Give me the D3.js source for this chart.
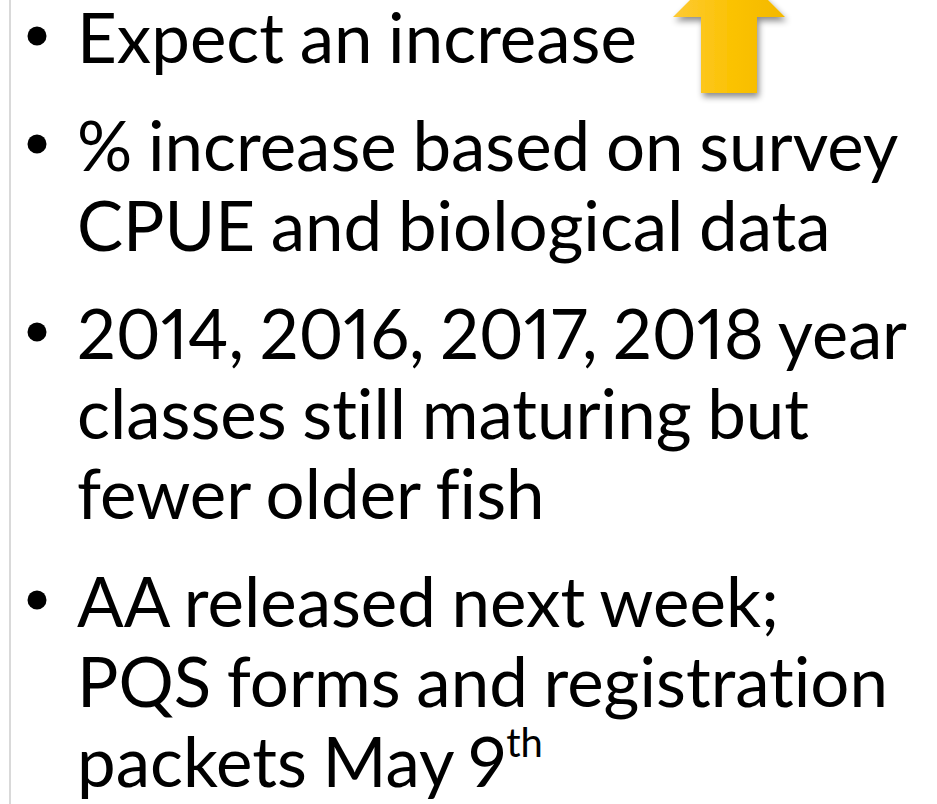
<!DOCTYPE html>
<html>
<head>
<meta charset="utf-8">
<script src="https://cdn.jsdelivr.net/npm/d3@7"></script>
<style>
    body { margin: 0; background: #fff; }
    svg { display: block; }
    .line { font-family: "Lato", "Open Sans", sans-serif; font-size: 69px; fill: #000;
            font-variant-ligatures: none; font-variant-numeric: proportional-nums;
            font-feature-settings: "liga" 0, "pnum" 1; word-spacing: -2px; }
</style>
</head>
<body>
<svg id="slide" width="937" height="804"></svg>
<script>
// bullet text, one array per bullet
const bullet1 = ["Expect an increase"];
const bullet2 = ["% increase based on survey", "CPUE and biological data"];
const bullet3 = ["2014, 2016, 2017, 2018 year", "classes still maturing but", "fewer older fish"];
const bullet4 = ["AA released next week;", "PQS forms and registration", "packets May 9"];
const bullets = [bullet1, bullet2, bullet3, bullet4];
const superscripts = [null, null, null, "th"];

let svg = d3.select("#slide");
let width = 937, height = 804;

// left gray rule
svg.append("line")
    .attr("x1", 10).attr("x2", 10).attr("y1", 0).attr("y2", height)
    .attr("stroke", "#d9d9d9").attr("stroke-width", 2);

let textX = 77, bulletX = 37;
let lineH = 80, bulletGap = 108;
let maxW = 830;

// baselines for every line
let baselines = [];
let y = 63;
bullets.forEach(function (b, i) {
    let ys = [];
    b.forEach(function (l, j) {
        ys.push(y);
        y += (j < b.length - 1) ? lineH : bulletGap;
    });
    baselines.push(ys);
});

let groups = svg.selectAll("g.bullet").data(bullets).enter()
    .append("g").classed("bullet", true);

groups.append("circle")
    .attr("cx", bulletX)
    .attr("cy", (d, i) => baselines[i][0] - 27)
    .attr("r", 9.5)
    .attr("fill", "#000");

groups.each(function (b, i) {
    let g = d3.select(this);
    b.forEach(function (l, j) {
        let t = g.append("text").classed("line", true)
            .attr("x", textX).attr("y", baselines[i][j]).text(l);
        if (j === b.length - 1 && superscripts[i]) {
            t.append("tspan").attr("font-size", "40px").attr("dy", -30).text(superscripts[i]);
        }
        // squeeze a line that is too wide for the slide
        if (t.node().getComputedTextLength() > maxW) {
            t.attr("textLength", maxW).attr("lengthAdjust", "spacingAndGlyphs");
        }
    });
});

// up arrow, top right
let defs = svg.append("defs");
let grad = defs.append("linearGradient").attr("id", "arrowFill")
    .attr("x1", "0%").attr("x2", "100%").attr("y1", "0%").attr("y2", "0%");
grad.append("stop").attr("offset", "0%").attr("stop-color", "#fdca35");
grad.append("stop").attr("offset", "55%").attr("stop-color", "#fbc200");
grad.append("stop").attr("offset", "100%").attr("stop-color", "#f3b800");
let shadow = defs.append("filter").attr("id", "arrowShadow")
    .attr("x", "-20%").attr("y", "-20%").attr("width", "150%").attr("height", "150%");
shadow.append("feDropShadow").attr("dx", 2).attr("dy", 4).attr("stdDeviation", 3)
    .attr("flood-color", "#000").attr("flood-opacity", 0.45);

let ax = d3.scaleLinear().domain([0, 1]).range([673, 785]);
let ay = d3.scaleLinear().domain([0, 1]).range([-39, 93]);
// arrow shape in unit coords
let arrowPts = [[0.5, 0], [1, 56 / 132], [0.75, 56 / 132], [0.75, 1],
                [0.25, 1], [0.25, 56 / 132], [0, 56 / 132]];
svg.append("path")
    .attr("d", d3.line().x(p => ax(p[0])).y(p => ay(p[1]))(arrowPts) + "Z")
    .attr("fill", "url(#arrowFill)")
    .attr("filter", "url(#arrowShadow)");
</script>
</body>
</html>
